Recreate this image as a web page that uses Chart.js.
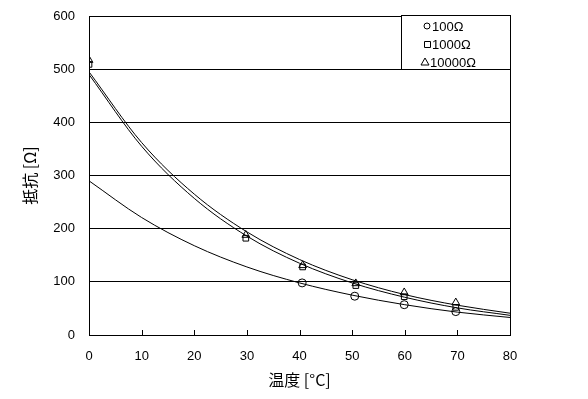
<!DOCTYPE html>
<html>
<head>
<meta charset="utf-8">
<script src="https://cdn.jsdelivr.net/npm/chart.js@4/dist/chart.umd.min.js"></script>
<style>
  html, body { margin: 0; padding: 0; background: #fff; }
  #wrap { width: 588px; height: 399px; position: relative; }
</style>
</head>
<body>
<div id="wrap"><canvas id="chart"></canvas></div>
<script>
// ── 測定値 ──
const seriesLabels = ['100Ω', '1000Ω', '10000Ω'];
const temp100 = [40.5, 50.5, 59.9, 69.7];
const res100 = [98, 73, 57, 44];
const temp1000 = [0, 29.8, 40.6, 50.7, 59.9, 69.7];
const res1000 = [509, 182, 128, 93, 72, 52];
const temp10000 = [0, 29.8, 40.6, 50.7, 59.9, 69.7];
const res10000 = [517, 188, 131, 97, 80, 61];

// ── 近似曲線 (図から読んだ値) ──
const curveTemps = [0, 10, 20, 30, 40, 50, 60, 70, 80];
const curve100 = [290, 221, 168, 128, 98, 75, 57, 43, 33];
const curve1000 = [490, 355, 257, 186, 135, 98, 71, 51, 37];
const curve10000 = [495, 362, 265, 194, 142, 104, 76, 56, 41];

const xTicks = [0, 10, 20, 30, 40, 50, 60, 70, 80];
const yTicks = [0, 100, 200, 300, 400, 500, 600];

const pointStyles = ['circle', 'rect', 'triangle'];
const tickFont = { family: '"Liberation Sans", Arial, sans-serif', size: 13 };
const jpFont = { family: '"Noto Sans CJK JP", sans-serif', size: 16 };

const pts = (xs, ys) => xs.map((x, i) => ({ x, y: ys[i] }));

const markerSet = (label, xs, ys, style, r) => ({
  label,
  data: pts(xs, ys),
  showLine: false,
  pointStyle: style,
  pointRadius: r,
  borderColor: '#000',
  backgroundColor: 'rgba(0,0,0,0)',
  pointBorderWidth: 1,
});
const curveSet = ys => ({
  label: '',
  data: pts(curveTemps, ys),
  showLine: true,
  pointRadius: 0,
  borderColor: '#000',
  borderWidth: 1,
  cubicInterpolationMode: 'monotone',
  fill: false,
});

// 枠・内向き目盛・凡例
const frame = {
  id: 'frame',
  afterDraw(chart) {
    const { ctx, chartArea: a, scales } = chart;
    ctx.save();
    ctx.strokeStyle = '#000';
    ctx.lineWidth = 1;
    ctx.strokeRect(Math.round(a.left) + 0.5, Math.round(a.top) + 0.5,
      Math.round(a.right - a.left), Math.round(a.bottom - a.top));
    // x 軸の内向き目盛
    ctx.beginPath();
    xTicks.forEach(v => {
      const px = Math.round(scales.x.getPixelForValue(v)) + 0.5;
      ctx.moveTo(px, a.bottom);
      ctx.lineTo(px, a.bottom - 5);
    });
    ctx.stroke();

    // 凡例
    const lx = 401, ly = 15, lw = 109, lh = 54;
    ctx.fillStyle = '#fff';
    ctx.fillRect(lx, ly, lw, lh);
    ctx.strokeRect(lx + 0.5, ly + 0.5, lw, lh);
    ctx.fillStyle = '#000';
    ctx.font = '13px "Liberation Sans", Arial, sans-serif';
    ctx.textBaseline = 'middle';
    const rows = [26, 44, 62];
    seriesLabels.forEach((t, i) => {
      const y = rows[i];
      const startX = [427, 427, 425][i];
      ctx.beginPath();
      if (pointStyles[i] === 'circle') {
        ctx.arc(startX, y, 3, 0, Math.PI * 2);
      } else if (pointStyles[i] === 'rect') {
        ctx.rect(startX - 3 + 0.5, y - 3 + 0.5, 6, 6);
      } else {
        ctx.moveTo(startX, y - 4);
        ctx.lineTo(startX + 4, y + 3);
        ctx.lineTo(startX - 4, y + 3);
        ctx.closePath();
      }
      ctx.stroke();
      ctx.fillText(t, startX + 5, y + 1);
    });
    ctx.restore();
  },
};

new Chart(document.getElementById('chart'), {
  type: 'scatter',
  data: {
    datasets: [
      curveSet(curve100),
      curveSet(curve1000),
      curveSet(curve10000),
      markerSet(seriesLabels[0], temp100, res100, 'circle', 4),
      markerSet(seriesLabels[1], temp1000, res1000, 'rect', 4),
      markerSet(seriesLabels[2], temp10000, res10000, 'triangle', 4.5),
    ],
  },
  options: {
    responsive: true,
    maintainAspectRatio: false,
    animation: false,
    layout: { padding: { top: 16, right: 78, left: 0, bottom: 0 } },
    plugins: { legend: { display: false }, tooltip: { enabled: false } },
    scales: {
      x: {
        type: 'linear',
        min: 0, max: 80,
        afterBuildTicks: s => { s.ticks = xTicks.map(v => ({ value: v })); },
        afterFit: s => { s.height = 64; },
        border: { display: false },
        grid: { display: false, drawTicks: false },
        ticks: { color: '#000', font: tickFont, padding: 14, maxRotation: 0 },
        title: { display: true, text: '温度 [°C]', color: '#000', font: jpFont, padding: { top: 0, bottom: 9 } },
      },
      y: {
        min: 0, max: 600,
        afterBuildTicks: s => { s.ticks = yTicks.map(v => ({ value: v })); },
        afterFit: s => { s.width = 89; s.paddingTop = 0; s.paddingBottom = 0; },
        border: { display: false },
        grid: { color: '#000', lineWidth: 1, drawTicks: false },
        ticks: { color: '#000', font: tickFont, padding: 14 },
        title: { display: true, text: '抵抗 [Ω]', color: '#000', font: jpFont, padding: { top: 20, bottom: 0 } },
      },
    },
  },
  plugins: [frame],
});
</script>
</body>
</html>
